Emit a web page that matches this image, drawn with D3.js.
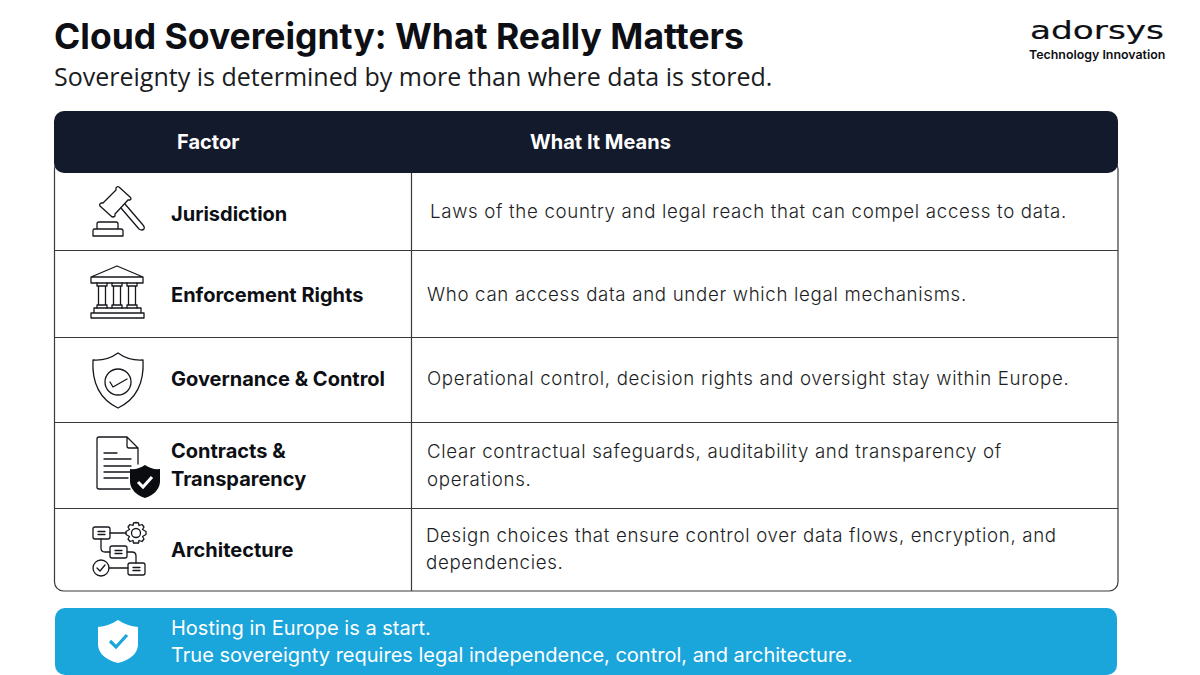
<!DOCTYPE html>
<html>
<head>
<meta charset="UTF-8">
<script src="https://cdn.jsdelivr.net/npm/d3@7"></script>
<style>
html,body{margin:0;padding:0;background:#fff;}
svg{display:block;}
</style>
</head>
<body>
<script>

var title = "Cloud Sovereignty: What Really Matters";
var subtitle = "Sovereignty is determined by more than where data is stored.";
var headers = ["Factor", "What It Means"];
var factors = ["Jurisdiction", "Enforcement Rights", "Governance & Control", "Contracts & Transparency", "Architecture"];
var factorLines = [["Jurisdiction"], ["Enforcement Rights"], ["Governance & Control"], ["Contracts &", "Transparency"], ["Architecture"]];
var meanings = [
    ["Laws of the country and legal reach that can compel access to data."],
    ["Who can access data and under which legal mechanisms."],
    ["Operational control, decision rights and oversight stay within Europe."],
    ["Clear contractual safeguards, auditability and transparency of", "operations."],
    ["Design choices that ensure control over data flows, encryption, and", "dependencies."]
];
var footerLines = ["Hosting in Europe is a start.", "True sovereignty requires legal independence, control, and architecture."];

var dark = "#131a2b", ink = "#0d0f14", line = "#3a3a3a", blue = "#1aa5db";
var inter = "Inter, sans-serif";

var width = 1200, height = 675;

// row edges are not even in the slide, so ordinal rather than band
var rowBottom = d3.scaleOrdinal().domain(factors).range([250, 337, 422, 508, 591]);
var factorBase = d3.scaleOrdinal().domain(factors).range([221, 302, 386, 458, 557]);
var meaningBase = d3.scaleOrdinal().domain(factors).range([218, 301, 385, 458, 541.5]);
var meaningX = d3.scaleOrdinal().domain(factors).range([430, 427, 427, 427, 426]);

var svg = d3.select("body").append("svg")
    .attr("width", width)
    .attr("height", height);

svg.append("text").attr("x", 54).attr("y", 48.5)
    .attr("font-family", inter).attr("font-size", 35.5).attr("font-weight", 700).attr("fill", ink)
    .text(title);

svg.append("text").attr("x", 54).attr("y", 85.5)
    .attr("font-family", "'Open Sans', sans-serif").attr("font-size", 25).attr("fill", "#1a1c22")
    .text(subtitle);

// logo
svg.append("text").attr("x", 1030).attr("y", 39)
    .attr("font-family", "'DejaVu Sans', sans-serif").attr("font-size", 24).attr("fill", ink)
    .attr("stroke", ink).attr("stroke-width", 0.2)
    .attr("textLength", 134).attr("lengthAdjust", "spacingAndGlyphs")
    .text("adorsys");
svg.append("text").attr("x", 1029).attr("y", 59)
    .attr("font-family", inter).attr("font-size", 12.4).attr("font-weight", 600).attr("fill", ink)
    .text("Technology Innovation");

// table frame
svg.append("rect").attr("x", 54.5).attr("y", 160).attr("width", 1063.5).attr("height", 431)
    .attr("rx", 9).attr("fill", "#fff").attr("stroke", line).attr("stroke-width", 1.2);

svg.append("line").attr("x1", 411.5).attr("x2", 411.5).attr("y1", 111).attr("y2", 591)
    .attr("stroke", line).attr("stroke-width", 1.2);

svg.selectAll(".row-line")
    .data(factors.slice(0, -1))
    .enter().append("line")
    .attr("class", "row-line")
    .attr("x1", 55).attr("x2", 1118)
    .attr("y1", function(d){ return rowBottom(d) + 0.5; })
    .attr("y2", function(d){ return rowBottom(d) + 0.5; })
    .attr("stroke", line).attr("stroke-width", 1.2);

// header bar
svg.append("rect").attr("x", 54).attr("y", 111).attr("width", 1064).attr("height", 62)
    .attr("rx", 10).attr("fill", dark);

svg.selectAll(".head")
    .data(headers)
    .enter().append("text")
    .attr("class", "head")
    .attr("x", function(d, i){ return i ? 530 : 177; })
    .attr("y", 148.5)
    .attr("font-family", inter).attr("font-size", 20).attr("font-weight", 700).attr("fill", "#fff")
    .text(function(d){ return d; });

// factor and meaning text
var rows = svg.selectAll(".row")
    .data(factors)
    .enter().append("g")
    .attr("class", "row");

rows.each(function(d, i){
    var g = d3.select(this);
    factorLines[i].forEach(function(t, j){
        g.append("text").attr("x", 171).attr("y", factorBase(d) + j * 27.5)
            .attr("font-family", inter).attr("font-size", 20).attr("font-weight", 700).attr("fill", ink)
            .text(t);
    });
    meanings[i].forEach(function(t, j){
        g.append("text").attr("x", meaningX(d)).attr("y", meaningBase(d) + j * 27.5)
            .attr("font-family", inter).attr("font-size", 18.7).attr("font-weight", 300).attr("fill", "#1c1e24")
            .attr("letter-spacing", 0.67)
            .text(t);
    });
});

// icons, outline style
var icons = svg.append("g")
    .attr("fill", "none").attr("stroke", "#15171c").attr("stroke-width", 1.3)
    .attr("stroke-linejoin", "round").attr("stroke-linecap", "round");

// gavel
var gavel = icons.append("g");
gavel.append("path").attr("d", "M100 206Q99 204 101 203L103 203L116 190L116 188Q117 186 119 187L130 197Q132 199 130 200L128 200L115 214L115 216Q113 218 111 216Z");
gavel.append("path").attr("d", "M121 208L139 229Q142 231 144 229Q145 227 143 225L125 204");
gavel.append("path").attr("d", "M97 229V224Q97 222 99 222H116Q118 222 118 224V229M94 229H121Q123 229 123 231V236H93V231Q93 229 94 229Z");

// bank
var bank = icons.append("g");
bank.append("path").attr("d", "M117 266L91 277V283H143V277ZM91 277H143M91 318H144V313H91ZM94 313V308H141V313");
[102, 117, 132].forEach(function(c){
    bank.append("path").attr("d", "M" + (c-5) + " 283V286H" + (c+5) + "V283M" + (c-3.5) + " 286V305M" + (c+3.5) + " 286V305M" + (c-5) + " 308V305H" + (c+5) + "V308");
});

// shield with tick
var shield = icons.append("g");
shield.append("path").attr("d", "M118 353Q107 361 93 360Q91 395 118 408Q145 395 143 360Q129 361 118 353Z");
shield.append("circle").attr("cx", 118).attr("cy", 382).attr("r", 13);
shield.append("path").attr("d", "M110 382L113 387L127 379");

// document
var doc = icons.append("g");
doc.append("path").attr("d", "M130 489H99Q97 489 97 487V439Q97 437 99 437H127L138 448V464M127 437V446Q127 448 129 448H138");
doc.append("path").attr("d", "M104 453H117M104 459H131M104 466H131M104 472H131M104 478H128");
svg.append("path").attr("d", "M145 465Q152 470 160 469V482Q159 493 145 498Q131 493 130 482V469Q138 470 145 465Z")
    .attr("fill", "#0b0c10");
svg.append("path").attr("d", "M138 482L143 487L152 477").attr("fill", "none")
    .attr("stroke", "#fff").attr("stroke-width", 3);

// flow diagram
var flow = icons.append("g");
[[93, 527], [110, 546], [128, 563]].forEach(function(b){
    flow.append("rect").attr("x", b[0]).attr("y", b[1]).attr("width", 17).attr("height", 12).attr("rx", 2);
    flow.append("path").attr("d", "M" + (b[0]+5) + " " + (b[1]+4.5) + "H" + (b[0]+12) + "M" + (b[0]+5) + " " + (b[1]+7.5) + "H" + (b[0]+12));
});
flow.append("circle").attr("cx", 136).attr("cy", 533).attr("r", 4.5);
flow.append("path").attr("d", "M136 522.5L138.5 523L139 525.5L142 524.5L144 527L142.5 529.5L146 531.5V534.5L142.5 536.5L144 539L142 541.5L139 540.5L138.5 543H133.5L133 540.5L130 541.5L128 539L129.5 536.5L126 534.5V531.5L129.5 529.5L128 527L130 524.5L133 525.5L133.5 523Z");
flow.append("circle").attr("cx", 101).attr("cy", 568).attr("r", 8);
flow.append("path").attr("d", "M97 568L100 571L105 565M110 533H126M101 539V548Q101 552 105 552H110M127 552H132Q136 552 136 556V563M109 568H128");

// footer band
svg.append("rect").attr("x", 55).attr("y", 608).attr("width", 1062).attr("height", 67)
    .attr("rx", 10).attr("fill", blue);
svg.append("path").attr("d", "M118 620Q127 626 138 627V645Q137 658 118 663Q99 658 98 645V627Q109 626 118 620Z")
    .attr("fill", "#fff");
svg.append("path").attr("d", "M110 641L116 647L127 635").attr("fill", "none")
    .attr("stroke", blue).attr("stroke-width", 3.2);

svg.selectAll(".foot")
    .data(footerLines)
    .enter().append("text")
    .attr("class", "foot")
    .attr("x", 171)
    .attr("y", function(d, i){ return 634.5 + i * 27; })
    .attr("font-family", inter).attr("font-size", 20).attr("fill", "#fff")
    .text(function(d){ return d; });

</script>
</body>
</html>
